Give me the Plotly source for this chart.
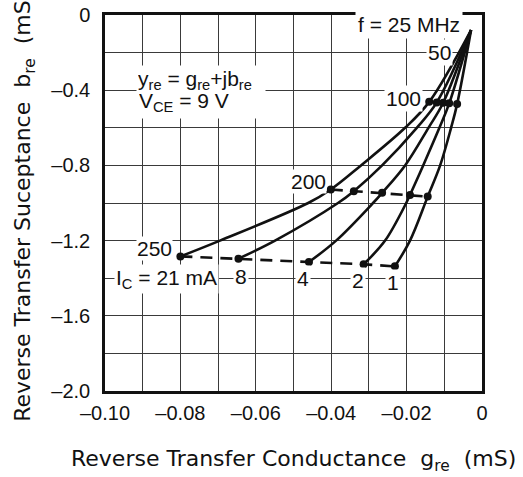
import plotly.graph_objects as go

# Traced points along each collector-current curve, ordered from f = 25 MHz to 250 MHz.
# First point is 25 MHz, second 100 MHz, fifth 200 MHz and last 250 MHz.
ic_labels = ["21 mA", "8", "4", "2", "1"]

g_21ma = [-0.0029, -0.0140, -0.0204, -0.0321, -0.0401, -0.0461, -0.0695, -0.0800]
b_21ma = [-0.080, -0.462, -0.600, -0.800, -0.928, -1.000, -1.200, -1.284]

g_8ma = [-0.0029, -0.0120, -0.0173, -0.0265, -0.0340, -0.0382, -0.0549, -0.0646]
b_8ma = [-0.080, -0.465, -0.600, -0.800, -0.937, -1.000, -1.200, -1.296]

g_4ma = [-0.0029, -0.0103, -0.0142, -0.0204, -0.0265, -0.0289, -0.0387, -0.0459]
b_4ma = [-0.080, -0.467, -0.600, -0.800, -0.946, -1.000, -1.200, -1.314]

g_2ma = [-0.0029, -0.0087, -0.0113, -0.0156, -0.0191, -0.0201, -0.0257, -0.0314]
b_2ma = [-0.080, -0.470, -0.600, -0.800, -0.957, -1.000, -1.200, -1.326]

g_1ma = [-0.0029, -0.0066, -0.0082, -0.0111, -0.0144, -0.0191, -0.0231]
b_1ma = [-0.080, -0.474, -0.600, -0.800, -0.966, -1.200, -1.337]

freq_mhz = [25, 100, 200, 250]
freq_index = [0, 1, 4, -1]

x_tick_vals = [-0.10, -0.09, -0.08, -0.07, -0.06, -0.05, -0.04, -0.03, -0.02, -0.01, 0.0]
x_tick_text = ["–0.10", " ", "–0.08", " ", "–0.06", " ", "–0.04", " ", "–0.02", " ", "0"]
y_tick_vals = [0.0, -0.2, -0.4, -0.6, -0.8, -1.0, -1.2, -1.4, -1.6, -1.8, -2.0]
y_tick_text = ["0", " ", "–0.4", " ", "–0.8", " ", "–1.2", " ", "–1.6", " ", "–2.0"]

curves_g = [g_21ma, g_8ma, g_4ma, g_2ma, g_1ma]
curves_b = [b_21ma, b_8ma, b_4ma, b_2ma, b_1ma]

FONT = "Liberation Sans, Arial, Helvetica, sans-serif"
TITLE_FONT = "DejaVu Sans, Liberation Sans, sans-serif"
INK = "#111111"
GRID = "#3a3a3a"

fig = go.Figure()

# Solid curves, one per collector current
for g, b in zip(curves_g, curves_b):
    fig.add_trace(go.Scatter(
        x=g, y=b, mode="lines",
        line=dict(color=INK, width=2.6, shape="spline", smoothing=1.0),
        hoverinfo="skip", showlegend=False,
    ))

# Dashed constant-frequency lines at 200 MHz and 250 MHz
for idx in freq_index[2:]:
    fig.add_trace(go.Scatter(
        x=[g[idx] for g in curves_g], y=[b[idx] for b in curves_b],
        mode="lines", line=dict(color=INK, width=2.6, dash="12px,8px"),
        hoverinfo="skip", showlegend=False,
    ))

# Dots at 100, 200 and 250 MHz
for idx in freq_index[1:]:
    fig.add_trace(go.Scatter(
        x=[g[idx] for g in curves_g], y=[b[idx] for b in curves_b],
        mode="markers", marker=dict(color=INK, size=8),
        hoverinfo="skip", showlegend=False,
    ))

label_font = dict(family=FONT, size=21, color=INK)


def label(text, x, y, pad=1, bg="white", **kw):
    fig.add_annotation(text=text, x=x, y=y, xref="x", yref="y", showarrow=False,
                       font=label_font, bgcolor=bg, borderpad=pad, **kw)


# Frequency labels
label(f"f = {freq_mhz[0]} MHz", -0.0194, -0.053, pad=2)
label("50", -0.0114, -0.202)
label(str(freq_mhz[1]), -0.0207, -0.442)
label(str(freq_mhz[2]), -0.0461, -0.884, pad=0)
label(str(freq_mhz[3]), -0.0870, -1.241, pad=0)

# Collector current labels
label(f"I<sub>C</sub> = {ic_labels[0]}", -0.0838, -1.405)
label(ic_labels[1], -0.0639, -1.390)
label(ic_labels[2], -0.0476, -1.401)
label(ic_labels[3], -0.0330, -1.411)
label(ic_labels[4], -0.0235, -1.422)

# Condition block: one white box holding both lines
label("y<sub>re</sub> = g<sub>re</sub>+jb<sub>re</sub>", -0.0918, -0.407,
      xanchor="left", align="left", valign="top", width=126, height=50)
label("V<sub>CE</sub> = 9 V", -0.0915, -0.462, bg="rgba(0,0,0,0)",
      xanchor="left", align="left", width=122)

title_font = dict(family=TITLE_FONT, size=22, color=INK)
fig.add_annotation(text="Reverse Transfer Conductance  g<sub>re</sub>  (mS)",
                   xref="paper", yref="paper", x=0.50, y=-0.185,
                   xanchor="center", yanchor="middle",
                   showarrow=False, font=title_font)
fig.add_annotation(text="Reverse Transfer Suceptance  b<sub>re</sub>  (mS)",
                   xref="paper", yref="paper", x=-0.212, y=0.49, textangle=-90,
                   xanchor="center", yanchor="middle",
                   showarrow=False, font=title_font)

axis_common = dict(
    showline=True, mirror=True, linecolor=INK, linewidth=2.5,
    showgrid=True, gridcolor=GRID, gridwidth=1,
    zeroline=False, ticks="", tickmode="array", automargin=False,
    tickfont=dict(family=FONT, size=20, color=INK),
)

fig.update_xaxes(range=[-0.10, 0.0], tickvals=x_tick_vals, ticktext=x_tick_text,
                 ticklabelstandoff=2, **axis_common)
fig.update_yaxes(range=[-2.0, 0.0], tickvals=y_tick_vals, ticktext=y_tick_text,
                 ticklabelstandoff=8, **axis_common)

fig.update_layout(
    width=523, height=477,
    margin=dict(l=105, r=41, t=15, b=86),
    paper_bgcolor="white", plot_bgcolor="white",
    font=dict(family=FONT, color=INK),
)

fig.write_html("out.html", config={"displayModeBar": False})
